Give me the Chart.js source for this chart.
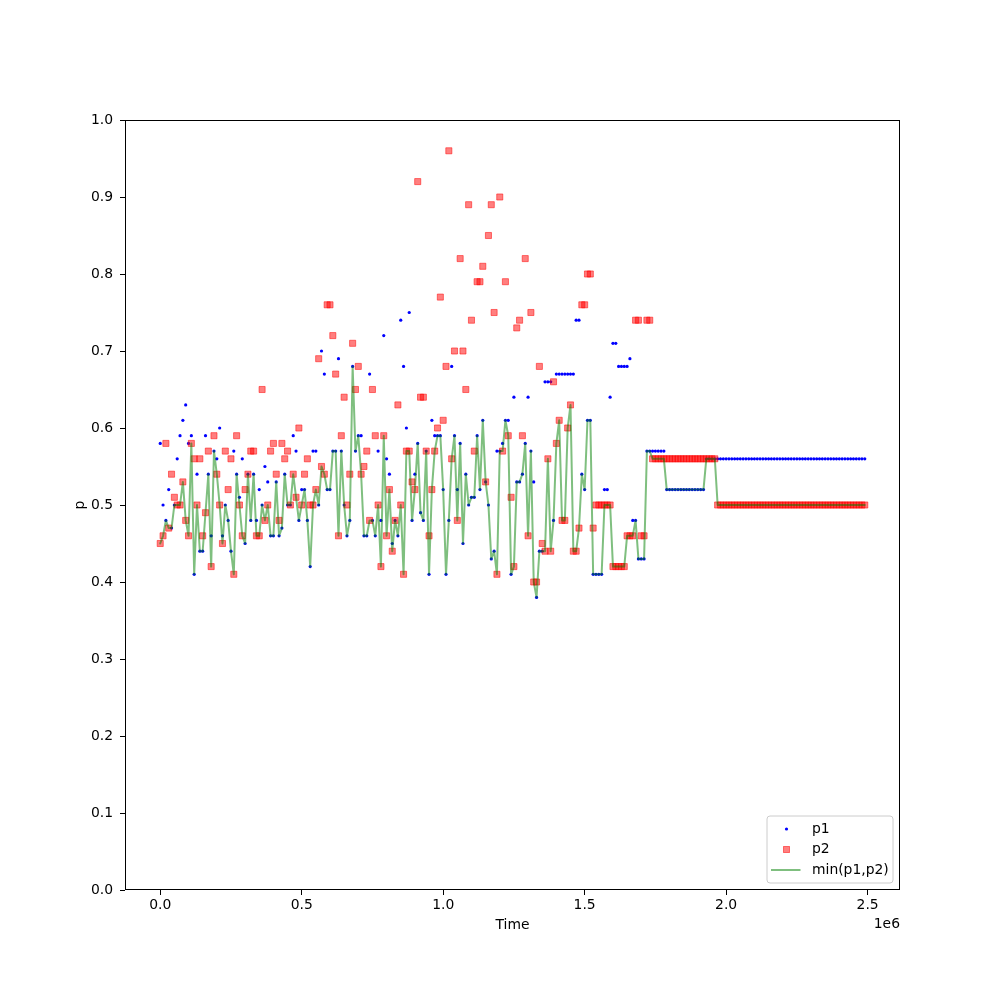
<!DOCTYPE html>
<html>
<head>
<meta charset="utf-8">
<script src="https://cdn.jsdelivr.net/npm/chart.js@4.4.1/dist/chart.umd.min.js"></script>
<style>
  html, body { margin: 0; padding: 0; background: #fff; }
  canvas { display: block; }
</style>
</head>
<body>
<canvas id="plot" width="1000" height="1000"></canvas>
<script>
// samples are taken every 10000 time units, starting at 0
const TIME_STEP = 10000;

const p1 = [
  0.58,0.50,0.48,0.52,0.47,0.50,0.56,0.59,0.61,0.63,0.58,0.59,0.41,0.54,0.44,0.44,0.59,0.54,0.46,0.57,0.56,0.60,0.46,0.50,0.48,0.44,0.57,
  0.54,0.51,0.56,0.45,0.54,0.48,0.54,0.48,0.52,0.50,0.55,0.53,0.46,0.46,0.53,0.46,0.47,0.54,0.50,0.50,0.59,0.57,0.48,0.52,0.52,0.48,0.42,0.57,0.57,
  0.50,0.70,0.67,0.52,0.52,0.57,0.57,0.69,0.57,0.50,0.46,0.48,0.68,0.57,0.59,0.59,0.46,0.46,0.67,0.48,0.46,0.57,0.48,0.72,0.56,0.54,0.45,
  0.48,0.46,0.74,0.68,0.60,0.75,0.48,0.54,0.58,0.49,0.48,0.57,0.41,0.61,0.59,0.59,0.59,0.52,0.41,0.48,0.68,0.59,0.52,0.58,0.45,0.54,0.50,
  0.51,0.51,0.59,0.52,0.61,0.53,0.50,0.43,0.44,0.57,0.57,0.58,0.61,0.61,0.41,0.64,0.53,0.53,0.54,0.58,0.64,0.57,0.53,0.38,0.44,0.44,0.66,0.66,0.66,
  0.48,0.67,0.67,0.67,0.67,0.67,0.67,0.67,0.74,0.74,0.54,0.52,0.61,0.61,0.41,0.41,0.41,0.41,0.52,0.52,0.64,0.71,0.71,0.68,0.68,0.68,0.68,0.69,0.48,0.48,0.43,0.43,0.43,
  0.57,0.57,0.57,0.57,0.57,0.57,0.57,
  0.52,0.52,0.52,0.52,0.52,0.52,0.52,0.52,0.52,0.52,0.52,0.52,0.52,0.52,
  0.56,0.56,0.56,0.56,0.56,0.56,0.56,0.56,0.56,0.56,
  0.56,0.56,0.56,0.56,0.56,0.56,0.56,0.56,0.56,0.56,
  0.56,0.56,0.56,0.56,0.56,0.56,0.56,0.56,0.56,0.56,
  0.56,0.56,0.56,0.56,0.56,0.56,0.56,0.56,0.56,0.56,
  0.56,0.56,0.56,0.56,0.56,0.56,0.56,0.56,0.56,0.56,
  0.56,0.56,0.56,0.56,0.56,0.56,0.56
];

const p2 = [
  0.45,0.46,0.58,0.47,0.54,0.51,0.50,0.50,0.53,0.48,0.46,0.58,0.56,0.50,0.56,0.46,0.49,0.57,0.42,0.59,0.54,0.50,0.45,0.57,0.52,0.56,0.41,
  0.59,0.50,0.46,0.52,0.54,0.57,0.57,0.46,0.46,0.65,0.48,0.50,0.57,0.58,0.54,0.48,0.58,0.56,0.57,0.50,0.54,0.51,0.60,0.50,0.54,0.56,0.50,0.50,0.52,
  0.69,0.55,0.54,0.76,0.76,0.72,0.67,0.46,0.59,0.64,0.50,0.54,0.71,0.65,0.68,0.54,0.55,0.57,0.48,0.65,0.59,0.50,0.42,0.59,0.46,0.52,0.44,
  0.48,0.63,0.50,0.41,0.57,0.57,0.53,0.52,0.92,0.64,0.64,0.57,0.46,0.52,0.57,0.60,0.77,0.61,0.68,0.96,0.56,0.70,0.48,0.82,0.70,0.65,0.89,
  0.74,0.57,0.79,0.79,0.81,0.53,0.85,0.89,0.75,0.41,0.90,0.57,0.79,0.59,0.51,0.42,0.73,0.74,0.59,0.82,0.46,0.75,0.40,0.40,0.68,0.45,0.44,0.56,0.44,
  0.66,0.58,0.61,0.48,0.48,0.60,0.63,0.44,0.44,0.47,0.76,0.76,0.80,0.80,0.47,0.50,0.50,0.50,0.50,0.50,0.50,0.42,0.42,0.42,0.42,0.42,0.46,0.46,0.46,0.74,0.74,0.46,0.46,
  0.74,0.74,
  0.56,0.56,0.56,0.56,0.56,0.56,0.56,0.56,0.56,0.56,
  0.56,0.56,0.56,0.56,0.56,0.56,0.56,0.56,0.56,0.56,
  0.56,0.56,0.56,
  0.50,0.50,0.50,0.50,0.50,0.50,0.50,0.50,0.50,0.50,
  0.50,0.50,0.50,0.50,0.50,0.50,0.50,0.50,0.50,0.50,
  0.50,0.50,0.50,0.50,0.50,0.50,0.50,0.50,0.50,0.50,
  0.50,0.50,0.50,0.50,0.50,0.50,0.50,0.50,0.50,0.50,
  0.50,0.50,0.50,0.50,0.50,0.50,0.50,0.50,0.50,0.50,
  0.50,0.50,0.50
];

const xTicks = [0, 500000, 1000000, 1500000, 2000000, 2500000];
const yTicks = [0, 0.1, 0.2, 0.3, 0.4, 0.5, 0.6, 0.7, 0.8, 0.9, 1.0];
const legendLabels = ["p1", "p2", "min(p1,p2)"];

if (p1.length !== p2.length) console.warn("p1/p2 length mismatch", p1.length, p2.length);

const times = p1.map((_, i) => i * TIME_STEP);
const pMin = p1.map((v, i) => Math.min(v, p2[i]));

const FONT = "DejaVu Sans";
const FS = 13.9;
const BLUE = "#0000ff";
const RED = "rgba(255,0,0,0.5)";
const GREEN = "rgba(0,128,0,0.5)";

const pts = ys => ys.map((y, i) => ({ x: times[i], y }));

// frame, axis titles, offset text and legend (matplotlib look)
const decorations = {
  id: "decorations",
  afterDraw(chart) {
    const { ctx, chartArea: a } = chart;
    ctx.save();
    ctx.strokeStyle = "#000";
    ctx.lineWidth = 1;
    ctx.strokeRect(a.left + 0.5, a.top + 0.5, a.right - a.left - 1, a.bottom - a.top - 1);

    ctx.fillStyle = "#000";
    ctx.font = `${FS}px "${FONT}"`;
    ctx.textAlign = "center";
    ctx.textBaseline = "middle";
    ctx.fillText("Time", (a.left + a.right) / 2, 925);
    ctx.textAlign = "right";
    ctx.fillText("1e6", a.right, 924);

    ctx.save();
    ctx.translate(80, (a.top + a.bottom) / 2);
    ctx.rotate(-Math.PI / 2);
    ctx.textAlign = "center";
    ctx.fillText("p", 0, 0);
    ctx.restore();

    // legend box
    const bx = 767, by = 816, bw = 126, bh = 67, r = 3;
    ctx.beginPath();
    ctx.moveTo(bx + r, by);
    ctx.arcTo(bx + bw, by, bx + bw, by + bh, r);
    ctx.arcTo(bx + bw, by + bh, bx, by + bh, r);
    ctx.arcTo(bx, by + bh, bx, by, r);
    ctx.arcTo(bx, by, bx + bw, by, r);
    ctx.closePath();
    ctx.fillStyle = "rgba(255,255,255,0.8)";
    ctx.fill();
    ctx.strokeStyle = "#cccccc";
    ctx.stroke();

    const rows = [829, 849.5, 870];
    ctx.fillStyle = BLUE;
    ctx.beginPath();
    ctx.arc(786.5, rows[0], 1.6, 0, Math.PI * 2);
    ctx.fill();

    ctx.fillStyle = RED;
    ctx.strokeStyle = RED;
    ctx.fillRect(783.5, rows[1] - 3, 6, 6);
    ctx.strokeRect(783.5, rows[1] - 3, 6, 6);

    ctx.strokeStyle = GREEN;
    ctx.lineWidth = 2;
    ctx.beginPath();
    ctx.moveTo(771, rows[2]);
    ctx.lineTo(800.5, rows[2]);
    ctx.stroke();

    ctx.fillStyle = "#000";
    ctx.textAlign = "left";
    ctx.textBaseline = "middle";
    legendLabels.forEach((t, i) => ctx.fillText(t, 812, rows[i]));
    ctx.restore();
  }
};

const tickFont = { family: FONT, size: FS };

new Chart(document.getElementById("plot"), {
  type: "scatter",
  data: {
    datasets: [
      {
        label: legendLabels[0],
        data: pts(p1),
        order: 3,
        showLine: false,
        pointStyle: "circle",
        pointRadius: 1.6,
        pointBorderWidth: 0,
        pointBackgroundColor: BLUE
      },
      {
        label: legendLabels[1],
        data: pts(p2),
        order: 2,
        showLine: false,
        pointStyle: "rect",
        pointRadius: 4.3,
        pointBorderWidth: 1,
        pointBackgroundColor: RED,
        pointBorderColor: RED
      },
      {
        label: legendLabels[2],
        data: pts(pMin),
        order: 1,
        showLine: true,
        borderColor: GREEN,
        borderWidth: 2,
        borderJoinStyle: "round",
        borderCapStyle: "round",
        pointRadius: 0,
        tension: 0
      }
    ]
  },
  options: {
    responsive: false,
    animation: false,
    devicePixelRatio: 1,
    layout: { padding: { left: 0, top: 120, right: 100, bottom: 0 } },
    scales: {
      x: {
        type: "linear",
        min: -124500,
        max: 2614500,
        afterFit: s => { s.height = 110; },
        afterBuildTicks: s => { s.ticks = xTicks.map(v => ({ value: v })); },
        ticks: {
          callback: v => (v / 1e6).toFixed(1),
          font: tickFont,
          color: "#000",
          padding: 2,
          maxRotation: 0,
          autoSkip: false
        },
        grid: { display: true, drawOnChartArea: false, drawTicks: true, tickLength: 5, color: "#000" },
        border: { display: false }
      },
      y: {
        type: "linear",
        min: 0,
        max: 1,
        afterFit: s => { s.width = 125; },
        afterBuildTicks: s => { s.ticks = yTicks.map(v => ({ value: v })); },
        ticks: {
          callback: v => v.toFixed(1),
          font: tickFont,
          color: "#000",
          padding: 7,
          autoSkip: false
        },
        grid: { display: true, drawOnChartArea: false, drawTicks: true, tickLength: 5, color: "#000" },
        border: { display: false }
      }
    },
    plugins: {
      legend: { display: false },
      tooltip: { enabled: false }
    }
  },
  plugins: [decorations]
});
</script>
</body>
</html>
